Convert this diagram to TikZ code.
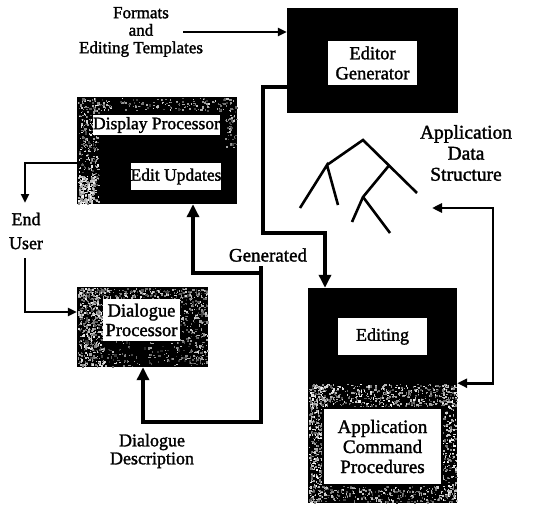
\documentclass[tikz,border=0pt]{standalone}
\usepackage{fontspec}
\setmainfont{Liberation Serif}
\newfontfamily\inkfont{Liberation Serif}[FakeBold=1.6]
\usetikzlibrary{arrows.meta}

% scattered grey flecks inside a dark area:
% x0 y0 width height count lowest-grey grey-range
\newcommand\grainfill[7]{%
  \foreach \k in {1,...,#5}{%
    \pgfmathsetmacro\gx{#1+rnd*#3}%
    \pgfmathsetmacro\gy{#2+rnd*#4}%
    \pgfmathtruncatemacro\gl{#6+rnd*#7}%
    \pgfmathsetmacro\gw{0.7+rnd*1.8}%
    \pgfmathsetmacro\gh{0.7+rnd*1.8}%
    \fill[white!\gl!black] (\gx,\gy) rectangle ++(\gw,\gh);
  }}
\newcommand\sz[2]{\fontsize{#1}{#2}\selectfont}

\begin{document}
\begin{tikzpicture}[x=1pt,y=-1pt,
  txt/.style={font=\inkfont\sz{18}{18}, align=center, inner sep=0pt},
  outerbox/.style={fill=black, draw=none, inner sep=0pt},
  label/.style={fill=white, draw=none, inner sep=0pt, align=center,
                font=\inkfont\sz{18}{17}},
  thinarrow/.style={line width=2.4pt, -{Triangle[length=9pt,width=8pt]}},
  thickarrow/.style={line width=4.5pt, -{Triangle[length=13pt,width=12pt]}},
  twig/.style={line width=2.6pt}
]
\useasboundingbox (0,0) rectangle (539,506);
\pgfmathsetseed{4217}

% ---- boxes ----
\node[outerbox, minimum width=171pt, minimum height=105pt] (eg) at (372.5,60.5) {};
\node[label, minimum width=89pt, minimum height=44pt, font=\inkfont\sz{18.5}{20}]
  (egl) at (372.5,63) {Editor\\Generator};

\node[outerbox, minimum width=160pt, minimum height=107pt] (disp) at (157,150.5) {};
\grainfill{78}{98}{20}{105}{300}{25}{70}
\grainfill{78}{175}{16}{28}{160}{50}{50}
\grainfill{78}{98}{158}{12}{170}{20}{70}
\grainfill{224}{108}{12}{40}{50}{20}{60}
\node[label, minimum width=127pt, minimum height=20pt, font=\inkfont\sz{17.5}{17}]
  (dpl) at (156.5,125) {Display Processor};
\node[label, minimum width=88pt, minimum height=27pt, font=\inkfont\sz{17.5}{17}]
  (eul) at (176,176.5) {Edit Updates};

\node[outerbox, minimum width=131pt, minimum height=80pt] (dlg) at (142.5,327) {};
\grainfill{78}{288}{129}{78}{520}{15}{70}
\grainfill{78}{288}{26}{78}{420}{30}{65}
\grainfill{78}{288}{129}{10}{200}{20}{70}
\grainfill{185}{290}{22}{75}{150}{20}{65}
\node[label, minimum width=77pt, minimum height=42pt, font=\inkfont\sz{18.5}{19.5}]
  (dlgl) at (141.5,320) {Dialogue\\Processor};

\node[outerbox, minimum width=149pt, minimum height=95pt] (edtop) at (382.5,335.5) {};
\node[label, minimum width=89pt, minimum height=37pt] (edl) at (382.5,336.5) {Editing};
\node[outerbox, minimum width=149pt, minimum height=120pt] (edbot) at (382.5,443) {};
\grainfill{309}{384}{147}{118}{600}{15}{70}
\grainfill{309}{384}{16}{118}{380}{35}{65}
\grainfill{309}{384}{147}{22}{380}{30}{65}
\grainfill{440}{384}{16}{118}{200}{35}{65}
\grainfill{309}{486}{147}{16}{200}{25}{65}
\node[label, draw=black, line width=2pt, minimum width=119pt, minimum height=77pt,
  font=\inkfont\sz{19}{20}] (apc) at (382.5,446.5) {Application\\Command\\Procedures};

% ---- free texts ----
\node[txt, font=\inkfont\sz{17}{17.5}] (fmt) at (141,32) {Formats\\and\\Editing Templates};
\node[txt, font=\inkfont\sz{18}{24}] (user) at (26,231) {End\\User};
\node[txt, font=\inkfont\sz{19}{18}] (gen) at (268,255) {Generated};
\node[txt] (ddesc) at (152,451) {Dialogue\\Description};
\node[txt, font=\inkfont\sz{19.5}{21}] (ads) at (466,153) {Application\\Data\\Structure};

% ---- data structure tree ----
\coordinate (t0) at (363,140);
\coordinate (t1) at (327,165);
\coordinate (t2) at (417,193);
\coordinate (t3) at (389,165.5);
\coordinate (t4) at (363,197);
\draw[twig] (t1) -- (t0) -- (t2);
\draw[twig] (300,208) -- (t1) -- (338,205);
\draw[twig] (t3) -- (t4) -- (352,222);
\draw[twig] (t4) -- (390,233);

% ---- connectors ----
\coordinate (fa) at (183,32);
\draw[thinarrow] (fa) -- (fa -| eg.west);

\coordinate (eu1) at (25,163);
\coordinate (eu2) at (25,203);
\draw[thinarrow] (eu1 -| disp.west) -- (eu1) -- (eu2);
\coordinate (eu3) at (25,258);
\coordinate (eu4) at (25,312);
\draw[thinarrow] (eu3) -- (eu4) -- (eu4 -| dlg.west);

\coordinate (g0) at (263,87);
\coordinate (g1) at (325,233);
\draw[thickarrow] (g0 -| eg.west) -- (g0) -- (g0 |- g1) -- (g1) -- (g1 |- edtop.north);

\coordinate (g3) at (261,266);
\coordinate (g4) at (143,422);
\draw[thickarrow] (g3) -- (g3 |- g4) -- (g4) -- (g4 |- dlg.south);
\coordinate (g5) at (193,273);
\draw[thickarrow] (g5 -| g3) -- (g5) -- (g5 |- disp.south);

\coordinate (r0) at (432,208);
\coordinate (r1) at (493,208);
\draw[line width=2.8pt, {Triangle[length=10pt,width=9pt]}-{Triangle[length=10pt,width=9pt]}]
  (r0) -- (r1) -- (r1 |- edtop.south east) -- (edtop.south east);
\end{tikzpicture}
\end{document}
